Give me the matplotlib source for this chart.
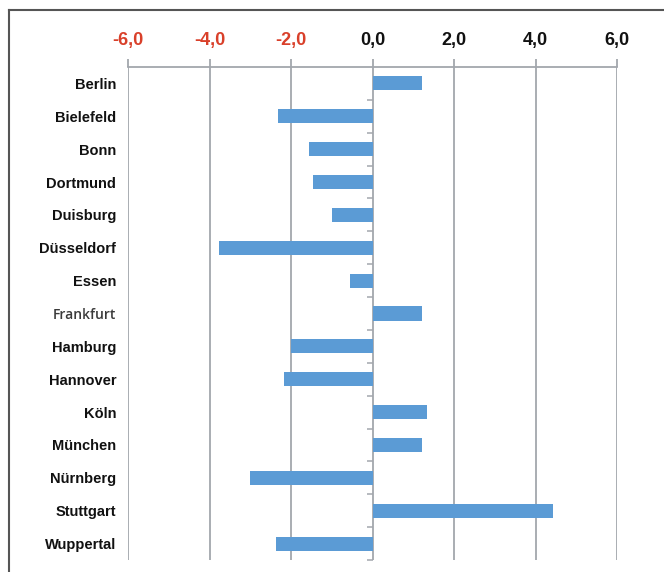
import matplotlib.pyplot as plt
from matplotlib.lines import Line2D

cities = ["Berlin", "Bielefeld", "Bonn", "Dortmund", "Duisburg", "Düsseldorf",
          "Essen", "Frankfurt", "Hamburg", "Hannover", "Köln", "München",
          "Nürnberg", "Stuttgart", "Wuppertal"]
values = [1.22, -2.33, -1.56, -1.46, -1.0, -3.77, -0.55, 1.22, -2.0, -2.17,
          1.34, 1.22, -3.0, 4.43, -2.37]
xticks = [-6, -4, -2, 0, 2, 4, 6]

plt.rcParams['font.family'] = ['Liberation Sans', 'DejaVu Sans']

fig = plt.figure(figsize=(6.64, 5.72), dpi=100)
ax = fig.add_axes([128/664, 1-560/572, 489/664, 493/572])

pos = list(range(len(cities)))
ax.barh(pos, values, height=0.43, color="#5b9bd5", zorder=3)
ax.set_xlim(-6, 6)
ax.set_ylim(len(cities)-0.5, -0.5)

grid_c = "#a3a7ad"
ax.set_xticks(xticks)
ax.set_xticklabels([f"{v:.1f}".replace(".", ",") for v in xticks])
ax.xaxis.tick_top()
ax.tick_params(axis="x", length=6, width=1.3, color=grid_c, pad=7, labelsize=13)
for lab, v in zip(ax.get_xticklabels(), xticks):
    lab.set_fontweight("bold")
    lab.set_color("#d9402a" if v < 0 else "#111111")
ax.grid(axis="x", color=grid_c, lw=1.3, zorder=1)

ax.set_yticks(pos)
ax.set_yticklabels(cities)
ax.tick_params(axis="y", length=0, pad=8.5, labelsize=10.5)
for lab in ax.get_yticklabels():
    if lab.get_text() == "Frankfurt":
        lab.set_fontfamily(["Open Sans", "DejaVu Sans"])
        lab.set_fontweight("semibold")
        lab.set_color("#3a3a3a")
        lab.set_fontsize(10)
    else:
        lab.set_fontweight("bold")
        lab.set_color("#111111")

for s in ["left", "right", "bottom"]:
    ax.spines[s].set_visible(False)
ax.spines["top"].set_color(grid_c)
ax.spines["top"].set_linewidth(1.3)

# small category ticks on the zero line, pointing left
sec = ax.secondary_yaxis(0.5)
sec.set_alignment("left")
sec.set_yticks([p + 0.5 for p in pos])
sec.set_yticklabels([])
sec.tick_params(axis="y", length=4, width=1.1, color=grid_c)
sec.spines["left"].set_visible(False)
sec.spines["right"].set_visible(False)

# figure frame
fc = "#555555"
fig.add_artist(Line2D([9/664, 1], [1-10/572, 1-10/572], color=fc, lw=1.5, transform=fig.transFigure))
fig.add_artist(Line2D([9/664, 9/664], [0, 1-10/572], color=fc, lw=1.5, transform=fig.transFigure))

fig.savefig("out.png", dpi=100)
